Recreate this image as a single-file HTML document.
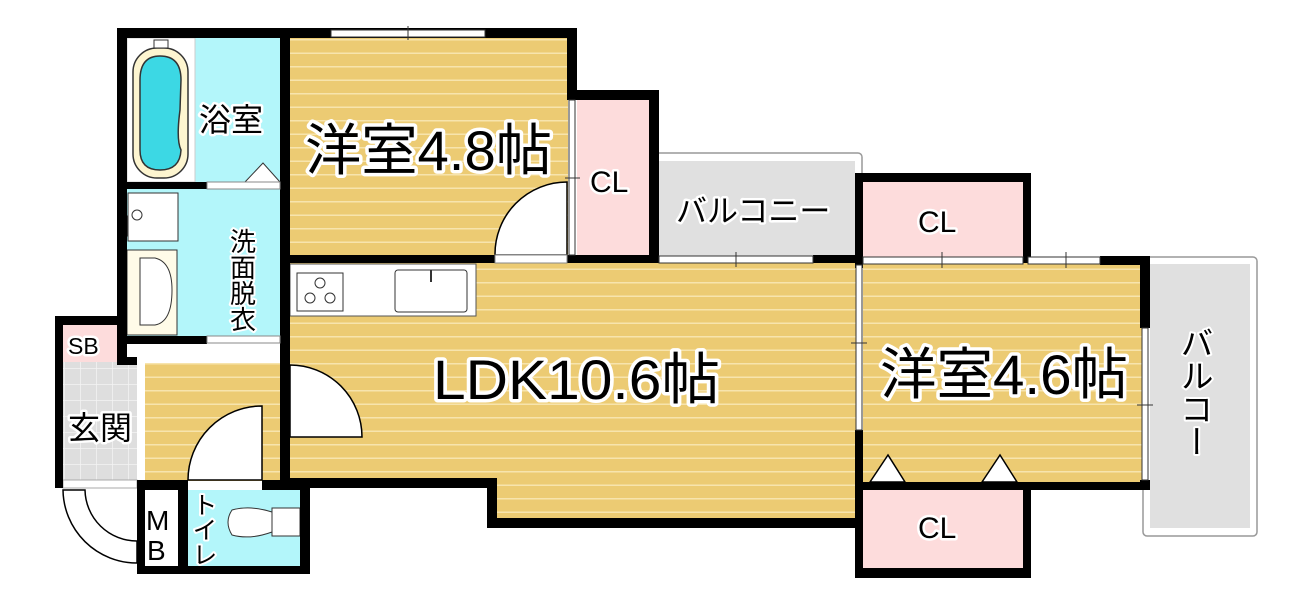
<!DOCTYPE html>
<html><head><meta charset="utf-8"><style>
html,body{margin:0;padding:0;background:#fff;}
svg{display:block}
text{font-family:"Liberation Sans","Noto Sans CJK JP",sans-serif;paint-order:stroke;stroke:#fff;stroke-linejoin:round;fill:#000}
.v{writing-mode:vertical-rl;font-family:"Noto Sans CJK JP",sans-serif}
</style></head><body>
<svg width="1308" height="594" viewBox="0 0 1308 594" xmlns="http://www.w3.org/2000/svg">
<defs>
<pattern id="wood" width="20" height="13.5" patternUnits="userSpaceOnUse">
<rect width="20" height="13.5" fill="#eccb73"/><rect y="12" width="20" height="1.5" fill="#f7e4ad"/>
</pattern>
<pattern id="tile" width="16" height="16" patternUnits="userSpaceOnUse">
<rect width="16" height="16" fill="#dedede"/><path d="M0 0H16M0 0V16" stroke="#f4f4f4" stroke-width="1.5"/>
</pattern>
</defs>
<rect x="655" y="153" width="207" height="110" rx="4" fill="#fff" stroke="#999" stroke-width="1.5"/>
<rect x="659" y="161" width="196" height="96" fill="#e0e0e0"/>
<rect x="1143" y="257" width="114" height="279" rx="4" fill="#fff" stroke="#999" stroke-width="1.5"/>
<rect x="1150" y="264" width="100" height="264" fill="#e0e0e0"/>
<rect x="290" y="38" width="278" height="218" fill="url(#wood)"/>
<rect x="290" y="262" width="566" height="218" fill="url(#wood)"/>
<rect x="494" y="470" width="362" height="50" fill="url(#wood)"/>
<rect x="863" y="262" width="280" height="220" fill="url(#wood)"/>
<rect x="145" y="363" width="137" height="118" fill="url(#wood)"/>
<rect x="577" y="98" width="73" height="158" fill="#fddcdc"/>
<rect x="863" y="182" width="160" height="76" fill="#fddcdc"/>
<rect x="863" y="490" width="160" height="78" fill="#fddcdc"/>
<rect x="63" y="325" width="54" height="37" fill="#fddcdc"/>
<rect x="63" y="362" width="74" height="118" fill="url(#tile)"/>
<rect x="137" y="362" width="8" height="118" fill="#fff"/>
<rect x="63" y="480" width="74" height="8" fill="#fff" stroke="#aaa" stroke-width="1"/>
<rect x="127" y="38" width="153" height="144" fill="#b3f6fa"/>
<rect x="127" y="38" width="68" height="144" fill="#fff" stroke="#ccc"/>
<rect x="127" y="188" width="153" height="148" fill="#b3f6fa"/>
<rect x="188" y="490" width="112" height="76" fill="#b3f6fa"/>
<rect x="145" y="490" width="33" height="76" fill="#fff"/>
<rect x="133" y="48" width="55" height="130" rx="24" fill="#fdf5d0" stroke="#333" stroke-width="1.5"/>
<path d="M140 80 Q140 56 160 56 Q181 56 181 80 L180 110 Q176 140 181 150 Q180 170 160 170 Q140 170 140 150 Z" fill="#3cd8e4" stroke="#333" stroke-width="1.5"/>
<rect x="154" y="40" width="14" height="8" fill="#fff" stroke="#333"/>
<path d="M245 182 L263 163 L280 182 Z" fill="#fff" stroke="#333"/>
<rect x="128" y="193" width="50" height="48" fill="#fff" stroke="#333"/>
<circle cx="137" cy="215" r="5" fill="#fff" stroke="#333"/>
<rect x="118" y="216" width="9" height="20" fill="#fff" stroke="#333"/>
<rect x="127" y="250" width="50" height="85" fill="#fffbe8" stroke="#333"/>
<path d="M140 258 L155 258 Q172 262 172 290 Q172 322 155 325 L140 325 Z" fill="#fff" stroke="#333"/>
<rect x="290" y="264" width="186" height="52" fill="#fff" stroke="#555"/>
<rect x="297" y="273" width="46" height="38" fill="#fff" stroke="#333"/>
<circle cx="320" cy="283" r="5" fill="none" stroke="#333"/><circle cx="310" cy="298" r="5" fill="none" stroke="#333"/><circle cx="330" cy="298" r="5" fill="none" stroke="#333"/>
<rect x="395" y="270" width="72" height="42" rx="3" fill="#fff" stroke="#333"/>
<line x1="431" y1="270" x2="431" y2="282" stroke="#333" stroke-width="2"/>
<path d="M232 510 Q250 505 272 512 L272 532 Q250 540 232 535 Q224 522 232 510 Z" fill="#fff" stroke="#333"/>
<rect x="272" y="508" width="28" height="28" fill="#fff" stroke="#333"/>
<g fill="#fff" stroke="#000" stroke-width="1.5">
<path d="M567 182 A72 72 0 0 0 495 255 L567 255 Z"/>
<path d="M290 365 A72 72 0 0 1 362 437 L290 437 Z"/>
<path d="M262 406 A74 74 0 0 0 188 480 L262 480 Z"/>
<path d="M63 490 A74 74 0 0 0 137 563 L137 541 A52 52 0 0 1 85 490 Z" fill="#fff"/>
<path d="M870 482 L888 455 L905 482 Z"/><path d="M982 482 L1000 455 L1017 482 Z"/>
</g>
<g fill="#000">
<rect x="117" y="28" width="173" height="10"/>
<rect x="117" y="28" width="10" height="337"/>
<rect x="280" y="28" width="10" height="460"/>
<rect x="280" y="28" width="297" height="10"/>
<rect x="567" y="28" width="10" height="70"/>
<rect x="567" y="90" width="92" height="10"/>
<rect x="649" y="90" width="10" height="173"/>
<rect x="117" y="182" width="90" height="7"/>
<rect x="117" y="336" width="90" height="8"/>
<rect x="280" y="255" width="215" height="8"/>
<rect x="567" y="255" width="92" height="8"/>
<rect x="813" y="255" width="50" height="8"/>
<rect x="855" y="173" width="176" height="9"/>
<rect x="855" y="173" width="8" height="90"/>
<rect x="1023" y="173" width="8" height="90"/>
<rect x="1023" y="256" width="5" height="7"/>
<rect x="1100" y="256" width="50" height="9"/>
<rect x="1140" y="256" width="10" height="72"/>
<rect x="1140" y="480" width="10" height="10"/>
<rect x="855" y="262" width="8" height="6"/>
<rect x="855" y="430" width="8" height="148"/>
<rect x="863" y="482" width="287" height="8"/>
<rect x="1023" y="482" width="8" height="96"/>
<rect x="855" y="568" width="176" height="10"/>
<rect x="280" y="478" width="215" height="10"/>
<rect x="487" y="478" width="10" height="50"/>
<rect x="487" y="518" width="376" height="10"/>
<rect x="55" y="316" width="72" height="9"/>
<rect x="55" y="316" width="8" height="172"/>
<rect x="117" y="357" width="20" height="8"/>
<rect x="137" y="480" width="51" height="10"/>
<rect x="262" y="480" width="48" height="10"/>
<rect x="137" y="480" width="8" height="92"/>
<rect x="178" y="480" width="10" height="92"/>
<rect x="300" y="480" width="10" height="92"/>
<rect x="137" y="566" width="173" height="8"/>
</g>
<line x1="139" y1="360" x2="207" y2="360" stroke="#fff" stroke-width="2" stroke-dasharray="2 2"/>
<rect x="207" y="336" width="73" height="7" fill="#fff" stroke="#888"/>
<rect x="207" y="182" width="73" height="7" fill="#fff" stroke="#888"/>
<rect x="495" y="255" width="72" height="8" fill="#fff" stroke="#888"/>
<g fill="#fff" stroke="#333" stroke-width="1">
<rect x="331" y="30" width="154" height="7"/><line x1="408" y1="26" x2="408" y2="40"/>
<rect x="569" y="100" width="6" height="155"/><line x1="565" y1="178" x2="580" y2="178"/>
<rect x="659" y="256" width="154" height="7"/><line x1="736" y1="252" x2="736" y2="267"/>
<rect x="863" y="257" width="160" height="7"/><line x1="942" y1="252" x2="942" y2="268"/>
<rect x="1028" y="257" width="72" height="7"/><line x1="1066" y1="252" x2="1066" y2="268"/>
<rect x="856" y="265" width="6" height="165"/><line x1="851" y1="343" x2="867" y2="343"/>
<rect x="1142" y="328" width="6" height="152"/><line x1="1137" y1="405" x2="1153" y2="405"/>
</g>
<text x="305" y="170" font-size="56" stroke-width="7" textLength="247" lengthAdjust="spacingAndGlyphs">洋室4.8帖</text>
<text x="433" y="399" font-size="56" stroke-width="7" textLength="287" lengthAdjust="spacingAndGlyphs">LDK10.6帖</text>
<text x="880" y="394" font-size="56" stroke-width="7" textLength="248" lengthAdjust="spacingAndGlyphs">洋室4.6帖</text>
<g font-size="30" stroke-width="5">
<text x="590" y="192">CL</text>
<text x="918" y="232">CL</text>
<text x="918" y="538">CL</text>
<text x="676" y="222" font-size="31">バルコニー</text>
<text x="199" y="131" font-size="32">浴室</text>
<text x="68" y="439" font-size="32">玄関</text>
<text x="68" y="354" font-size="23">SB</text>
<text x="146" y="530" font-size="28">M</text><text x="147" y="560" font-size="28">B</text>
</g>
<text class="v" x="243" y="228" font-size="26" stroke-width="4">洗面脱衣</text>
<text class="v" x="1197" y="326" font-size="33" stroke-width="4">バルコー</text>
<text class="v" x="205" y="492" font-size="25" stroke-width="4">トイレ</text>
</svg>
</body></html>
